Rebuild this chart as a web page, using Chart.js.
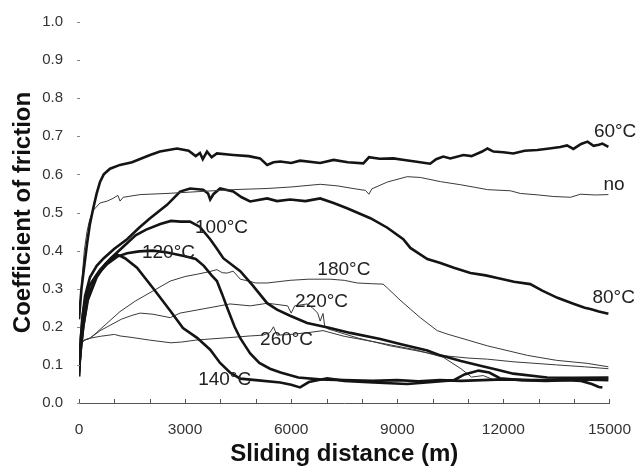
<!DOCTYPE html>
<html>
<head>
<meta charset="utf-8">
<script src="https://cdn.jsdelivr.net/npm/chart.js@4.4.1/dist/chart.umd.min.js"></script>
<style>
  html, body { margin: 0; padding: 0; background: #ffffff; }
  #wrap { width: 640px; height: 470px; }
</style>
</head>
<body>
<div id="wrap"><canvas id="c" width="640" height="470"></canvas></div>
<script>
// ---------- DATA (sliding distance in m, coefficient of friction) ----------
const xTicks = [0, 3000, 6000, 9000, 12000, 15000];
const yTicks = [0.0, 0.1, 0.2, 0.3, 0.4, 0.5, 0.6, 0.7, 0.8, 0.9, 1.0];

const seriesNames = ['60°C', 'no', '80°C', '100°C', '120°C', '140°C', '180°C', '220°C', '260°C'];

const d60 = [0,70,150,230,310,400,500,594,700,877,1160,1500,2010,2290,2770,3100,3300,3420,3500,3620,3750,3900,4360,4800,5120,5320,5500,5690,6000,6250,6820,7200,7600,8040,8200,8500,8890,9200,9500,9930,10100,10300,10500,10870,11100,11400,11550,11720,12000,12280,12600,12960,13300,13610,13800,13980,14200,14380,14550,14700,14800,14970];
const c60 = [0.22,0.30,0.36,0.42,0.47,0.51,0.55,0.58,0.60,0.615,0.625,0.632,0.651,0.66,0.668,0.662,0.648,0.656,0.64,0.66,0.645,0.655,0.651,0.648,0.642,0.625,0.632,0.634,0.63,0.636,0.63,0.638,0.632,0.629,0.645,0.641,0.642,0.638,0.634,0.628,0.64,0.647,0.642,0.651,0.648,0.66,0.668,0.66,0.658,0.655,0.662,0.664,0.668,0.672,0.676,0.667,0.68,0.686,0.675,0.678,0.681,0.672];

const dNo = [0,80,150,226,300,396,594,800,962,1100,1160,1250,1730,2490,3420,4360,5320,6000,6820,7300,7750,8100,8200,8280,8720,9280,9650,10220,10780,11200,11550,12200,12480,13000,13410,13900,14180,14600,14970];
const cNo = [0.22,0.32,0.40,0.45,0.48,0.505,0.525,0.53,0.537,0.545,0.53,0.54,0.547,0.55,0.555,0.56,0.563,0.567,0.574,0.57,0.563,0.558,0.548,0.562,0.58,0.594,0.592,0.581,0.573,0.566,0.56,0.557,0.55,0.546,0.542,0.54,0.548,0.546,0.547];

const d80 = [0,40,90,170,310,500,700,1000,1360,1700,2010,2490,2860,3140,3510,3650,3710,3800,3990,4360,4600,4840,5320,5600,5970,6400,6820,7200,7580,8240,8720,9170,9370,9850,10200,10600,11070,11500,11830,12300,12760,13100,13530,14000,14300,14460,14700,14970];
const c80 = [0.07,0.15,0.22,0.28,0.33,0.36,0.38,0.405,0.43,0.46,0.485,0.52,0.555,0.563,0.56,0.55,0.534,0.548,0.563,0.555,0.54,0.529,0.537,0.53,0.534,0.53,0.537,0.525,0.511,0.485,0.46,0.43,0.407,0.378,0.368,0.355,0.341,0.335,0.328,0.318,0.312,0.295,0.276,0.26,0.25,0.247,0.24,0.234];

const d100 = [0,50,120,200,310,450,600,900,1250,1600,1900,2300,2600,2870,3140,3420,3710,3900,4080,4560,4900,5320,5600,5970,6450,7100,7670,8520,9080,9850,10220,10800,11350,11800,12280,13240,14000,14970];
const c100 = [0.07,0.17,0.24,0.28,0.31,0.33,0.35,0.38,0.41,0.44,0.455,0.47,0.478,0.476,0.476,0.462,0.43,0.405,0.38,0.346,0.31,0.262,0.245,0.229,0.21,0.197,0.184,0.168,0.155,0.138,0.125,0.11,0.098,0.088,0.077,0.067,0.066,0.067];

const d120 = [0,50,120,250,500,800,1100,1360,1700,2090,2500,3000,3300,3530,3750,3900,4050,4190,4400,4560,4700,4840,5100,5400,5700,6200,6800,7500,8300,9000,9600,10200,10800,11400,12000,12800,13500,14200,14970];
const c120 = [0.08,0.14,0.2,0.28,0.335,0.365,0.385,0.393,0.398,0.4,0.395,0.385,0.378,0.36,0.335,0.32,0.285,0.25,0.2,0.17,0.15,0.13,0.105,0.09,0.08,0.067,0.062,0.06,0.058,0.06,0.057,0.06,0.058,0.06,0.062,0.06,0.06,0.062,0.06];

const d140 = [0,50,120,250,500,750,1070,1300,1640,2090,2580,2940,3340,3710,3990,4270,4560,5000,5690,6000,6250,6500,7020,7500,8320,9280,10000,10600,10900,11300,11600,11900,12500,13200,13800,14200,14500,14700,14800];
const c140 = [0.09,0.14,0.2,0.27,0.33,0.365,0.39,0.38,0.355,0.302,0.242,0.197,0.171,0.14,0.105,0.08,0.064,0.06,0.054,0.048,0.041,0.055,0.065,0.058,0.054,0.05,0.055,0.06,0.075,0.085,0.08,0.065,0.06,0.058,0.06,0.058,0.05,0.042,0.041];

const d180 = [0,50,150,310,500,680,1160,1600,2090,2580,3000,3340,3700,3900,4050,4190,4360,4560,4800,5000,5320,5970,6500,7100,7500,7870,8300,8600,8720,9080,9650,10130,10410,11000,11550,12680,13500,14380,14970];
const c180 = [0.12,0.155,0.165,0.17,0.185,0.2,0.24,0.268,0.294,0.32,0.332,0.338,0.345,0.35,0.342,0.341,0.346,0.325,0.32,0.315,0.315,0.322,0.325,0.325,0.322,0.315,0.313,0.312,0.302,0.27,0.224,0.19,0.181,0.165,0.15,0.125,0.112,0.104,0.095];

const d220 = [0,50,150,310,600,900,1200,1500,1730,2090,2580,2860,3510,4270,4840,5200,5320,5900,6000,6100,6450,6600,6750,6820,6900,6950,7050,7200,7870,8800,9500,10220,11000,11550,12300,12760,13500,14300,14970];
const c220 = [0.12,0.155,0.165,0.17,0.19,0.205,0.22,0.23,0.236,0.233,0.224,0.236,0.247,0.26,0.255,0.26,0.262,0.255,0.236,0.255,0.26,0.25,0.236,0.215,0.235,0.2,0.194,0.19,0.171,0.15,0.138,0.125,0.118,0.115,0.108,0.105,0.1,0.095,0.09];

const d260 = [0,50,150,310,600,1000,1160,1500,2000,2600,2900,3300,3700,4300,4840,5200,5400,5500,5600,6000,6500,6900,7500,8500,9500,10300,10800,11100,11430,11700,12500,13500,14300,14970];
const c260 = [0.12,0.155,0.165,0.17,0.175,0.18,0.176,0.172,0.165,0.158,0.16,0.165,0.168,0.172,0.176,0.178,0.185,0.2,0.178,0.18,0.185,0.19,0.175,0.158,0.14,0.12,0.09,0.068,0.072,0.062,0.062,0.06,0.063,0.065];

// curve label anchors (data units: distance, friction)
const labelAtX = [14560, 14830, 14520, 3280, 1780, 3370, 6740, 6110, 5120];
const labelAtY = [0.699, 0.56, 0.263, 0.446, 0.38, 0.046, 0.336, 0.252, 0.153];

// ---------- build ----------
const allD = [d60, dNo, d80, d100, d120, d140, d180, d220, d260];
const allC = [c60, cNo, c80, c100, c120, c140, c180, c220, c260];
const thick = [true, false, true, true, true, true, false, false, false];

const datasets = seriesNames.map((name, i) => ({
  label: name,
  data: allD[i].map((x, k) => ({ x: x, y: allC[i][k] })),
  borderColor: thick[i] ? '#141414' : '#3a3a3a',
  borderWidth: thick[i] ? 2.6 : 1,
  pointRadius: 0,
  tension: 0,
  fill: false
}));

const FONT = "'Liberation Sans', Arial, Helvetica, sans-serif";

const marksPlugin = {
  id: 'marks',
  afterDraw(chart) {
    const ctx = chart.ctx;
    const xs = chart.scales.x, ys = chart.scales.y;
    ctx.save();
    // inward tick marks on x axis
    ctx.strokeStyle = '#555';
    ctx.lineWidth = 1;
    xs.ticks.forEach(t => {
      const px = Math.round(xs.getPixelForValue(t.value)) + 0.5;
      ctx.beginPath();
      ctx.moveTo(px, xs.top);
      ctx.lineTo(px, xs.top - 4);
      ctx.stroke();
    });
    // small dashes for y ticks
    ctx.strokeStyle = '#888';
    ys.ticks.forEach(t => {
      const py = Math.round(ys.getPixelForValue(t.value)) + 0.5;
      ctx.beginPath();
      ctx.moveTo(xs.left - 2, py);
      ctx.lineTo(xs.left + 1, py);
      ctx.stroke();
    });
    // curve labels
    ctx.fillStyle = '#222';
    ctx.font = '19px ' + FONT;
    ctx.textAlign = 'left';
    ctx.textBaseline = 'alphabetic';
    seriesNames.forEach((name, i) => {
      ctx.fillText(name, xs.getPixelForValue(labelAtX[i]), ys.getPixelForValue(labelAtY[i]));
    });
    ctx.restore();
  }
};

new Chart(document.getElementById('c'), {
  type: 'line',
  data: { datasets: datasets },
  options: {
    responsive: false,
    animation: false,
    devicePixelRatio: 1,
    layout: { padding: { left: 0, top: 22, right: 25, bottom: 0 } },
    plugins: { legend: { display: false }, tooltip: { enabled: false } },
    scales: {
      x: {
        type: 'linear',
        min: 0, max: 15000,
        grid: { display: false },
        border: { display: true, color: '#555', width: 1 },
        ticks: {
          stepSize: 1000,
          autoSkip: false,
          maxRotation: 0,
          padding: 9,
          color: '#333',
          font: { family: FONT, size: 15.5 },
          callback: v => (xTicks.includes(v) ? String(v) : '')
        },
        title: {
          display: true,
          text: 'Sliding distance (m)',
          color: '#111',
          font: { family: FONT, size: 24, weight: 'bold' },
          padding: { top: 0, bottom: 1 }
        },
        afterFit: s => { s.height = 67; }
      },
      y: {
        type: 'linear',
        min: 0, max: 1.0,
        grid: { display: false },
        border: { display: false },
        ticks: {
          stepSize: 0.1,
          padding: 8,
          color: '#333',
          font: { family: FONT, size: 15 },
          callback: v => (yTicks.some(t => Math.abs(t - v) < 1e-6) ? v.toFixed(1) : '')
        },
        title: {
          display: true,
          text: 'Coefficient of friction',
          color: '#111',
          font: { family: FONT, size: 24, weight: 'bold' },
          padding: { top: 9, bottom: 0 }
        },
        afterFit: s => { s.width = 79; }
      }
    }
  },
  plugins: [marksPlugin]
});
</script>
</body>
</html>
